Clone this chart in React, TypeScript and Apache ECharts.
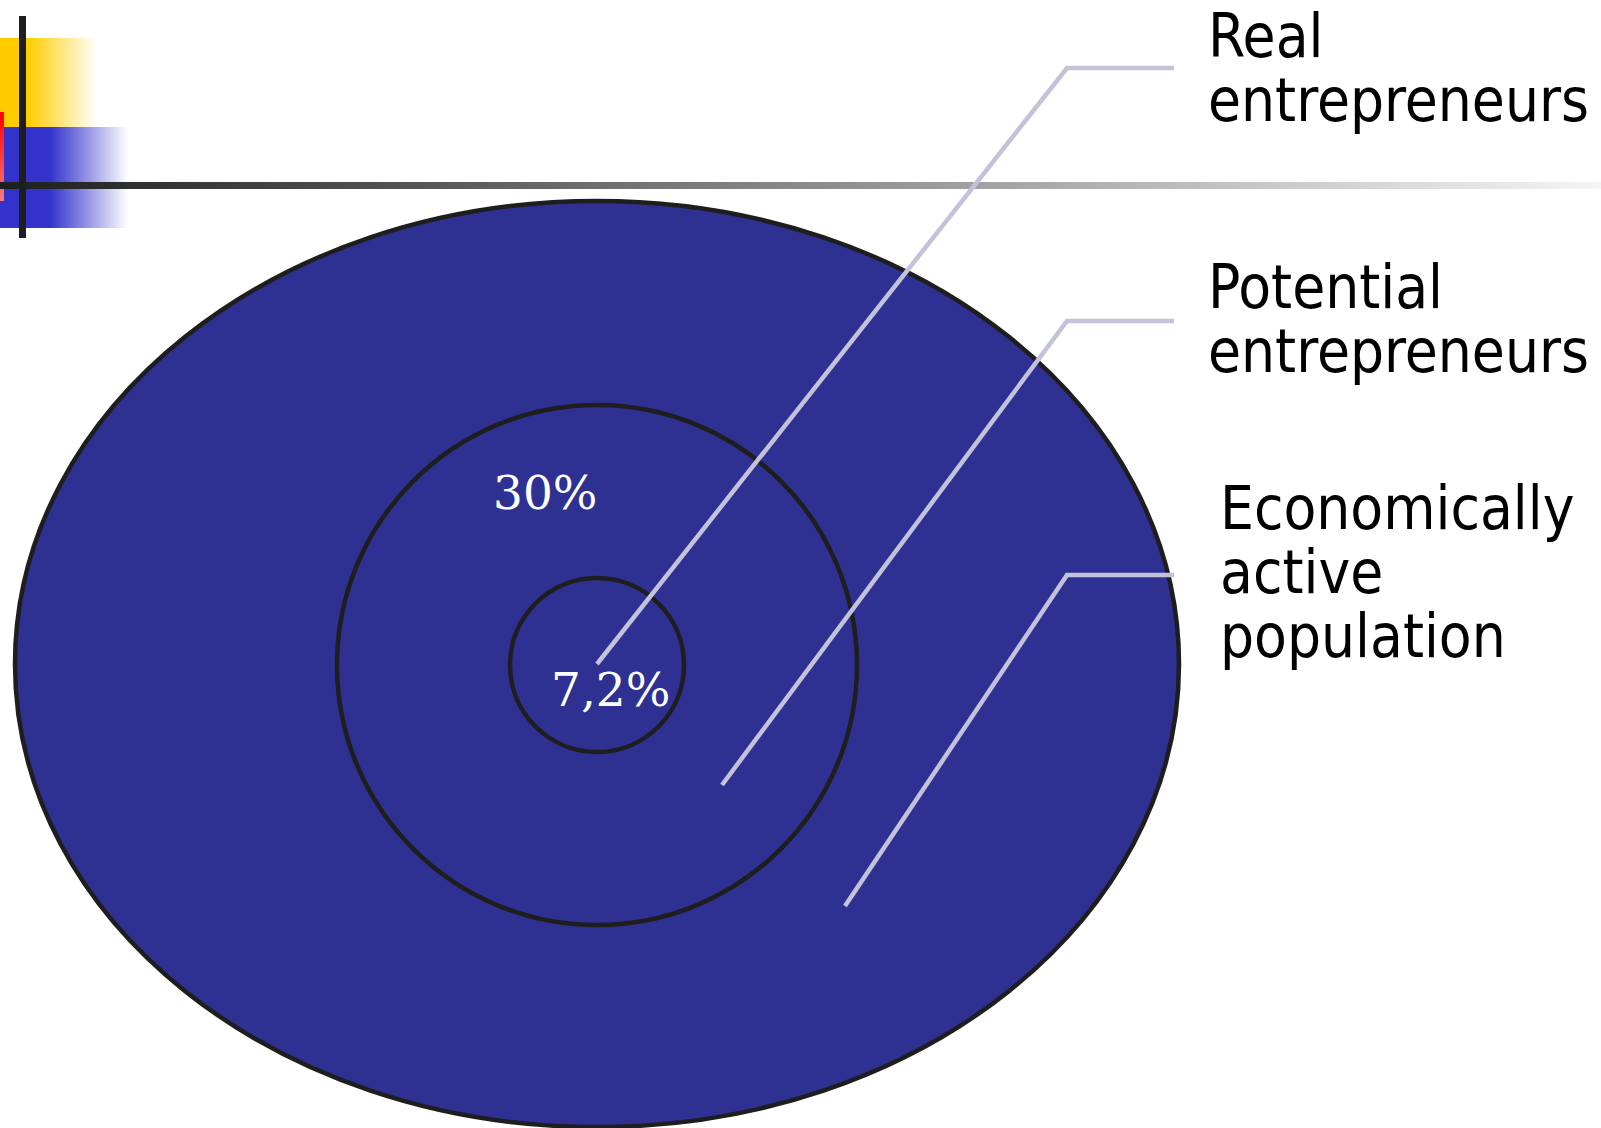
import React, { useEffect, useRef } from "react";
import * as echarts from "echarts";

// ---- data ----
const groups = ["Economically active population", "Potential entrepreneurs", "Real entrepreneurs"];
const groupLabelLines = [
  ["Economically", "active", "population"],
  ["Potential", "entrepreneurs"],
  ["Real", "entrepreneurs"],
];
const shares = [100, 30, 7.2];
const shareLabels = ["", "30%", "7,2%"];

// ---- layout (pixel space of the hidden axes) ----
const W = 1601;
const H = 1128;
const CENTERS = [
  [597, 664],
  [597, 665],
  [597, 665],
];
const RADII = [
  [582, 463],
  [260, 260],
  [87, 87],
];
const SHARE_LABEL_POS = [
  [0, 0],
  [493, 469],
  [551, 666],
];
const LEADER_START = [
  [845, 906],
  [722, 785],
  [597, 664],
];
const LEADER_BEND = [
  [1067, 575],
  [1067, 321],
  [1067, 68],
];
const LEADER_END_X = 1174;
const LABEL_POS = [
  [1220, 478],
  [1208, 257],
  [1208, 6],
];

const FILL = "#2E3192";
const STROKE = "#1E1E1E";
const LEADER = "#C2C2DA";
const LABEL_FONT = '"DejaVu Sans Condensed", "DejaVu Sans", sans-serif';
const LABEL_SIZE = 59.7;
const LINE_H = 64;

export default function App() {
  const ref = useRef<HTMLDivElement>(null);
  useEffect(() => {
    if (!ref.current) return;
    const chart = echarts.init(ref.current, undefined, { renderer: "svg" });
    const G = echarts.graphic;
    const option: any = {
      animation: false,
      backgroundColor: "#ffffff",
      grid: { left: 0, right: 0, top: 0, bottom: 0 },
      xAxis: { type: "value", min: 0, max: W, show: false },
      yAxis: { type: "value", min: 0, max: H, inverse: true, show: false },
      graphic: [
        {
          type: "rect",
          shape: { x: 0, y: 38, width: 97, height: 89 },
          style: {
            fill: new G.LinearGradient(0, 0, 1, 0, [
              { offset: 0, color: "#FFCC00" },
              { offset: 0.28, color: "#FFCC00" },
              { offset: 1, color: "#FFFFFF" },
            ]),
          },
        },
        {
          type: "rect",
          shape: { x: 0, y: 127, width: 128, height: 101 },
          style: {
            fill: new G.LinearGradient(0, 0, 1, 0, [
              { offset: 0, color: "#3333CC" },
              { offset: 0.39, color: "#3333CC" },
              { offset: 1, color: "#FFFFFF" },
            ]),
          },
        },
        {
          type: "rect",
          shape: { x: 0, y: 112, width: 4, height: 89 },
          style: {
            fill: new G.LinearGradient(0, 0, 0, 1, [
              { offset: 0, color: "#FF0000" },
              { offset: 1, color: "#FF7A7A" },
            ]),
          },
        },
        {
          type: "rect",
          shape: { x: 0, y: 182, width: W, height: 7 },
          style: {
            fill: new G.LinearGradient(0, 0, 1, 0, [
              { offset: 0, color: "#1E1E1E" },
              { offset: 1, color: "#F5F5F5" },
            ]),
          },
        },
        {
          type: "rect",
          shape: { x: 19, y: 16, width: 7, height: 222 },
          style: { fill: "#1E1E1E" },
        },
      ],
      series: [
        {
          type: "custom",
          name: "rings",
          coordinateSystem: "cartesian2d",
          data: groups.map((g, i) => ({ name: g, value: [i, shares[i]] })),
          renderItem: (params: any, api: any) => {
            const i = api.value(0);
            const c = api.coord(CENTERS[i]);
            const s = api.size(RADII[i]);
            return {
              type: "ellipse",
              z2: i,
              shape: { cx: c[0], cy: c[1], rx: s[0], ry: s[1] },
              style: { fill: FILL, stroke: STROKE, lineWidth: 4.5 },
            };
          },
        },
        {
          type: "custom",
          name: "leaders",
          coordinateSystem: "cartesian2d",
          z: 3,
          data: groups.map((g, i) => ({ name: g, value: [i, shares[i]] })),
          renderItem: (params: any, api: any) => {
            const i = api.value(0);
            const p0 = api.coord(LEADER_START[i]);
            const p1 = api.coord(LEADER_BEND[i]);
            const p2 = api.coord([LEADER_END_X, LEADER_BEND[i][1]]);
            const lp = api.coord(LABEL_POS[i]);
            const children: any[] = [
              {
                type: "polyline",
                shape: { points: [p0, p1, p2] },
                style: { stroke: LEADER, lineWidth: 4.5, fill: "none" },
              },
            ];
            groupLabelLines[i].forEach((t, k) => {
              children.push({
                type: "text",
                style: {
                  text: t,
                  x: lp[0],
                  y: lp[1] + k * LINE_H,
                  fill: "#000000",
                  font: `${LABEL_SIZE}px ${LABEL_FONT}`,
                  align: "left",
                  verticalAlign: "top",
                },
              });
            });
            if (shareLabels[i]) {
              const sp = api.coord(SHARE_LABEL_POS[i]);
              children.push({
                type: "text",
                style: {
                  text: shareLabels[i],
                  x: sp[0],
                  y: sp[1],
                  fill: "#FFFFFF",
                  font: '47px "DejaVu Serif", serif',
                  align: "left",
                  verticalAlign: "top",
                },
              });
            }
            return { type: "group", children };
          },
        },
      ],
    };
    chart.setOption(option);
    return () => chart.dispose();
  }, []);
  return (
    <div
      ref={ref}
      style={{ position: "fixed", left: 0, top: 0, width: W, height: H }}
    />
  );
}
